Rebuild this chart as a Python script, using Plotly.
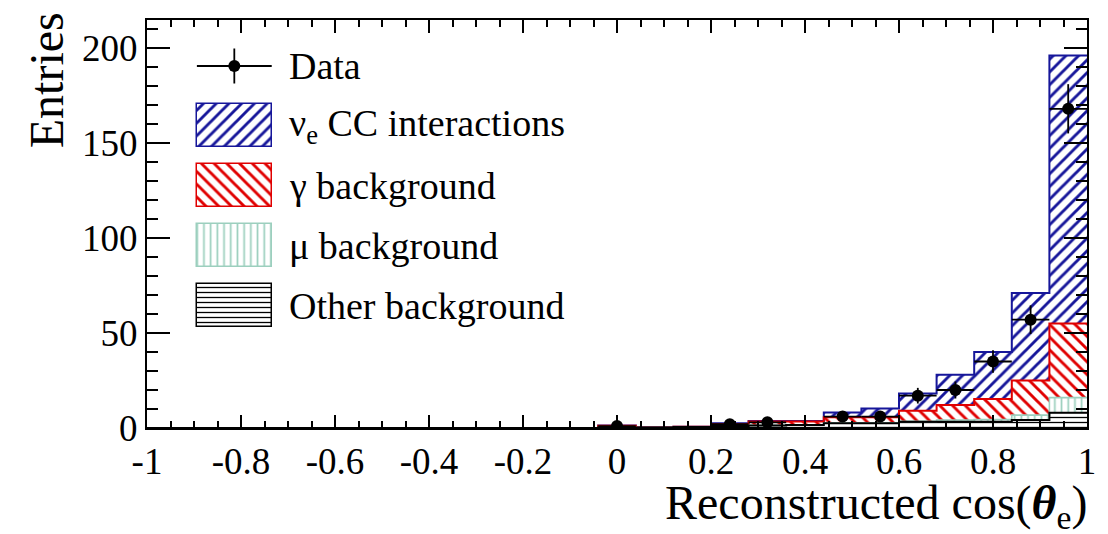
import numpy as np
import plotly.graph_objects as go

# Histogram binning: 25 bins of width 0.08 in reconstructed cos(theta_e)
bin_edges = [-1.0, -0.92, -0.84, -0.76, -0.68, -0.60, -0.52, -0.44, -0.36, -0.28,
             -0.20, -0.12, -0.04, 0.04, 0.12, 0.20, 0.28, 0.36, 0.44, 0.52,
             0.60, 0.68, 0.76, 0.84, 0.92, 1.0]

# Per-component expected entries per bin (bins below -0.04 are empty)
zeros12 = [0.0] * 12
other_bkg = zeros12 + [0.3, 0.2, 0.5, 1.0, 1.3, 1.6, 2.5, 2.5, 3.3, 3.3, 3.3, 4.2, 8.0]
mu_bkg    = zeros12 + [0.0, 0.0, 0.0, 0.0, 0.1, 0.1, 0.3, 0.3, 0.2, 0.9, 1.2, 2.6, 8.0]
gamma_bkg = zeros12 + [0.9, 0.1, 0.1, 1.0, 2.0, 1.7, 2.8, 2.8, 5.6, 7.9, 10.8, 18.2, 39.0]
nue_cc    = zeros12 + [0.1, 0.1, 0.1, 0.5, 0.3, 0.3, 2.6, 4.6, 9.1, 15.9, 24.7, 46.0, 141.0]

# Observed counts per bin
data_counts = zeros12 + [1, 0, 0, 2, 3, 0, 6, 6, 17, 20, 35, 57, 168]

x_tick_vals = [-1, -0.8, -0.6, -0.4, -0.2, 0, 0.2, 0.4, 0.6, 0.8, 1]
x_tick_text = ["-1", "-0.8", "-0.6", "-0.4", "-0.2", "0", "0.2", "0.4", "0.6", "0.8", "1"]
y_tick_vals = [0, 50, 100, 150, 200]

legend_labels = ["Data", "\u03bd<sub>e</sub> CC interactions", "\u03b3 background",
                 "\u03bc background", "Other background"]

# Styling
FONT = "Liberation Serif"
BLUE = "#16169a"
RED = "#e00000"
TEAL = "#9ccfbe"
BLACK = "#000000"

edges = np.array(bin_edges)
centers = 0.5 * (edges[:-1] + edges[1:])
widths = np.diff(edges)

# (values, colour, hatch shape, hatch size, hatch solidity, outline width)
components = [
    (np.array(other_bkg), BLACK, "-", 5, 0.26, 2.0),
    (np.array(mu_bkg), TEAL, "|", 6.7, 0.26, 1.6),
    (np.array(gamma_bkg), RED, "\\", 9, 0.32, 2.0),
    (np.array(nue_cc), BLUE, "/", 9, 0.32, 2.0),
]

fig = go.Figure()

# Stacked hatched fills
base = np.zeros(len(centers))
tops = []
for vals, col, shape, size, sol, lw in components:
    fig.add_trace(go.Bar(
        x=centers, y=vals, base=base.copy(), width=widths,
        marker=dict(color=col, line=dict(width=0),
                    pattern=dict(shape=shape, fgcolor=col, bgcolor="rgba(0,0,0,0)",
                                 fgopacity=1, size=size, solidity=sol)),
        showlegend=False, hoverinfo="skip",
    ))
    base = base + vals
    tops.append(base.copy())

# Step outlines of each cumulative level (top of stack first)
for (vals, col, shape, size, sol, lw), top in reversed(list(zip(components, tops))):
    fig.add_trace(go.Scatter(
        x=edges, y=np.append(top, top[-1]), mode="lines",
        line=dict(color=col, width=lw, shape="hv"),
        showlegend=False, hoverinfo="skip",
    ))

# Data points with Poisson errors
counts = np.array(data_counts, dtype=float)
mask = counts > 0
fig.add_trace(go.Scatter(
    x=centers[mask], y=counts[mask], mode="markers",
    marker=dict(color="black", size=12),
    error_y=dict(type="data", array=np.sqrt(counts[mask]), color="black", thickness=1.8, width=0),
    error_x=dict(type="data", array=widths[mask] / 2, color="black", thickness=1.8, width=0),
    showlegend=False, hoverinfo="skip",
))

# Legend drawn on an overlay axis measured in pixels of the frame
PX_L, PX_R, PX_T, PX_B = 147, 1089, 20, 428
box_x, box_w, box_h = 234.5, 75, 43
row_y = [66, 125.5, 185.5, 245.5, 305.5]
text_x = 287

for (vals, col, shape, size, sol, lw), yc in zip(reversed(components), row_y[1:]):
    fig.add_trace(go.Bar(
        x=[box_x], y=[box_h], base=[yc - box_h / 2], width=[box_w],
        xaxis="x2", yaxis="y2",
        marker=dict(color=col, line=dict(color=col, width=1.5),
                    pattern=dict(shape=shape, fgcolor=col, bgcolor="rgba(0,0,0,0)",
                                 fgopacity=1, size=size, solidity=sol)),
        showlegend=False, hoverinfo="skip",
    ))

fig.add_trace(go.Scatter(
    x=[box_x], y=[row_y[0]], mode="markers", xaxis="x2", yaxis="y2",
    marker=dict(color="black", size=12),
    error_x=dict(type="constant", value=box_w / 2, color="black", thickness=1.8, width=0),
    error_y=dict(type="constant", value=17.5, color="black", thickness=1.8, width=0),
    showlegend=False, hoverinfo="skip",
))

annotations = []
for lab, yc in zip(legend_labels, row_y):
    annotations.append(dict(
        x=text_x, y=yc, xref="x2", yref="y2", text=lab, showarrow=False,
        xanchor="left", yanchor="middle", font=dict(family=FONT, size=38, color="black"),
    ))


def px_to_paper(px, py):
    return (px - PX_L) / (PX_R - PX_L), (PX_B - py) / (PX_B - PX_T)


ex, ey = px_to_paper(46, 10)
annotations.append(dict(
    x=ex, y=ey, xref="paper", yref="paper", text="Entries", textangle=-90,
    showarrow=False, xanchor="center", yanchor="top",
    font=dict(family=FONT, size=48, color="black"),
))
tx, ty = px_to_paper(1091, 506)
annotations.append(dict(
    x=tx, y=ty, xref="paper", yref="paper",
    text="Reconstructed cos(<b><i>\u03b8</i></b><sub>e</sub>)",
    showarrow=False, xanchor="right", yanchor="middle",
    font=dict(family=FONT, size=48, color="black"),
))

axis_common = dict(
    showline=True, linecolor="black", linewidth=2, mirror="allticks",
    ticks="inside", tickcolor="black", tickwidth=2,
    showgrid=False, zeroline=False,
    tickfont=dict(family=FONT, size=37, color="black"),
)

fig.update_layout(
    width=1108, height=534,
    margin=dict(l=PX_L, r=1108 - PX_R, t=PX_T, b=534 - PX_B),
    paper_bgcolor="white", plot_bgcolor="white",
    barmode="overlay", bargap=0,
    showlegend=False,
    xaxis=dict(
        range=[-1, 1], tickmode="array", tickvals=x_tick_vals, ticktext=x_tick_text,
        ticklen=13,
        minor=dict(ticks="inside", ticklen=7, tick0=-1, dtick=0.05, tickcolor="black", tickwidth=2),
        **axis_common,
    ),
    yaxis=dict(
        range=[0, (PX_B - PX_T) / 1.9], tickmode="array", tickvals=y_tick_vals,
        ticklen=23,
        minor=dict(ticks="inside", ticklen=11, tick0=0, dtick=10, tickcolor="black", tickwidth=2),
        **axis_common,
    ),
    xaxis2=dict(overlaying="x", anchor="y2", range=[PX_L, PX_R], visible=False, fixedrange=True),
    yaxis2=dict(overlaying="y", anchor="x2", range=[PX_B, PX_T], visible=False, fixedrange=True),
    annotations=annotations,
)

fig.write_html("out.html")
